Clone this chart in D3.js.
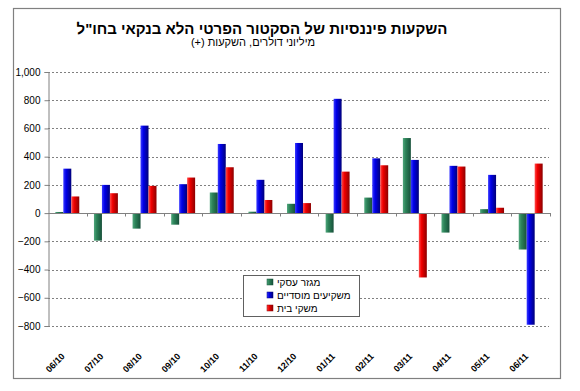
<!DOCTYPE html>
<html>
<head>
<meta charset="utf-8">
<script src="https://cdn.jsdelivr.net/npm/d3@7"></script>
<style>
  body { margin: 0; background: #fff; }
  svg { font-family: "Liberation Sans", Arial, sans-serif; }
</style>
</head>
<body>
<div id="chart"></div>
<script>
// categories (month/year)
const months = ["06/10", "07/10", "08/10", "09/10", "10/10", "11/10", "12/10",
  "01/11", "02/11", "03/11", "04/11", "05/11", "06/11"];

// series values, millions of dollars
const business = [8, -195, -110, -82, 146, 10, 66, -138, 110, 532, -138, 28, -258];
const institutional = [315, 200, 620, 205, 490, 236, 497, 810, 388, 377, 335, 271, -791];
const households = [118, 141, 193, 252, 325, 93, 71, 294, 339, -456, 330, 38, 351];

const seriesNames = ["מגזר עסקי", "משקיעים מוסדיים", "משקי בית"];
const yTicks = [-800, -600, -400, -200, 0, 200, 400, 600, 800, 1000];

const title = 'השקעות פיננסיות של הסקטור הפרטי הלא בנקאי בחו"ל';
const subtitle = "מיליוני דולרים, השקעות (+)";

const W = 580, H = 391;
const plot = { left: 48, right: 550, top: 72, bottom: 326 };

const series = [
  { key: "b", name: seriesNames[0], values: business, light: "#4fa67c", mid: "#2c8258", dark: "#17503a" },
  { key: "i", name: seriesNames[1], values: institutional, light: "#3a3aff", mid: "#0000e8", dark: "#00007a" },
  { key: "h", name: seriesNames[2], values: households, light: "#ff4a4a", mid: "#f00000", dark: "#8c0000" },
];

const svg = d3.select("#chart").append("svg")
  .attr("width", W)
  .attr("height", H);

// gradients for the shaded bars
const defs = svg.append("defs");
series.forEach((s) => {
  const g = defs.append("linearGradient")
    .attr("id", "grad-" + s.key)
    .attr("x1", "0%").attr("x2", "100%")
    .attr("y1", "0%").attr("y2", "0%");
  g.append("stop").attr("offset", "0%").attr("stop-color", s.light);
  g.append("stop").attr("offset", "35%").attr("stop-color", s.mid);
  g.append("stop").attr("offset", "100%").attr("stop-color", s.dark);
});

// outer frame
svg.append("rect")
  .attr("x", 13.5).attr("y", 8.5)
  .attr("width", 547).attr("height", 370)
  .attr("fill", "none")
  .attr("stroke", "#808080")
  .attr("stroke-width", 1.2);

// titles (right-to-left)
svg.append("text")
  .attr("x", 262).attr("y", 34)
  .attr("text-anchor", "middle")
  .attr("direction", "rtl")
  .attr("font-size", 15)
  .attr("font-weight", "bold")
  .text(title);

svg.append("text")
  .attr("x", 253).attr("y", 46)
  .attr("text-anchor", "middle")
  .attr("direction", "rtl")
  .attr("font-size", 11)
  .text(subtitle);

// scales
const x = d3.scaleBand()
  .domain(months)
  .range([plot.left, plot.right])
  .paddingInner(0.38)
  .paddingOuter(0.19);

const x1 = d3.scaleBand()
  .domain(series.map((s) => s.key))
  .range([0, x.bandwidth()]);

const y = d3.scaleLinear()
  .domain([-800, 1000])
  .range([plot.bottom, plot.top]);

// dotted gridlines
svg.append("g")
  .selectAll("line")
  .data(yTicks.filter((t) => t !== 0))
  .enter()
  .append("line")
  .attr("x1", plot.left)
  .attr("x2", plot.right - 1)
  .attr("y1", (d) => Math.round(y(d)) + 0.5)
  .attr("y2", (d) => Math.round(y(d)) + 0.5)
  .attr("stroke", "#808080")
  .attr("stroke-dasharray", "2,2");

// y axis
const yAxis = svg.append("g")
  .attr("transform", "translate(" + (plot.left + 0.5) + ",0)")
  .call(d3.axisLeft(y).tickValues(yTicks).tickSize(4).tickPadding(4)
    .tickFormat(d3.format(",")));
yAxis.select(".domain").attr("stroke", "#808080");
yAxis.selectAll(".tick line").attr("stroke", "#808080");
yAxis.selectAll("text")
  .attr("font-family", "'Liberation Sans', Arial, sans-serif")
  .attr("font-size", 10)
  .attr("fill", "#000");

// bars
const groups = svg.append("g")
  .selectAll("g")
  .data(months)
  .enter()
  .append("g")
  .attr("transform", (d) => "translate(" + x(d) + ",0)");

groups.selectAll("rect")
  .data((m, i) => series.map((s) => ({ key: s.key, v: s.values[i] })))
  .enter()
  .append("rect")
  .attr("x", (d) => x1(d.key))
  .attr("width", x1.bandwidth())
  .attr("y", (d) => y(Math.max(0, d.v)))
  .attr("height", (d) => Math.abs(y(d.v) - y(0)))
  .attr("fill", (d) => "url(#grad-" + d.key + ")");

// zero line with ticks at category boundaries
const zeroY = Math.round(y(0)) + 0.5;
svg.append("line")
  .attr("x1", plot.left).attr("x2", plot.right + 1)
  .attr("y1", zeroY).attr("y2", zeroY)
  .attr("stroke", "#808080");

const step = x.step();
svg.append("g")
  .selectAll("line")
  .data(months)
  .enter()
  .append("line")
  .attr("x1", (d) => Math.round(x(d) - x.paddingOuter() * step + step) + 0.5)
  .attr("x2", (d) => Math.round(x(d) - x.paddingOuter() * step + step) + 0.5)
  .attr("y1", zeroY)
  .attr("y2", zeroY + 3)
  .attr("stroke", "#808080");

// rotated month labels
svg.append("g")
  .selectAll("text")
  .data(months)
  .enter()
  .append("text")
  .attr("transform", (d) => "translate(" + (x(d) + x.bandwidth() / 2 - 2) + ",357) rotate(-45)")
  .attr("text-anchor", "end")
  .attr("font-size", 9)
  .attr("font-weight", "bold")
  .text((d) => d);

// legend
const legend = svg.append("g").attr("transform", "translate(243,275)");
legend.append("rect")
  .attr("x", 0.5).attr("y", 0.5)
  .attr("width", 116).attr("height", 41)
  .attr("fill", "#fff")
  .attr("stroke", "#606060");

series.forEach((s, i) => {
  const row = legend.append("g").attr("transform", "translate(0," + (7 + i * 13) + ")");
  row.append("rect")
    .attr("x", 24).attr("y", -3)
    .attr("width", 6).attr("height", 6)
    .attr("fill", "url(#grad-" + s.key + ")")
    .attr("stroke", s.dark)
    .attr("stroke-width", 0.5);
  row.append("text")
    .attr("x", 34).attr("y", 3.5)
    .attr("font-size", 10)
    .text(s.name);
});
</script>
</body>
</html>
